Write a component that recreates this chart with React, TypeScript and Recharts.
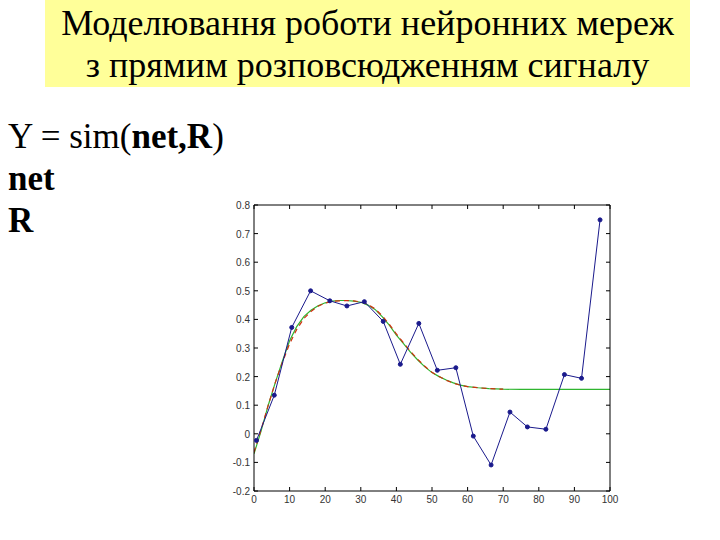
import React from 'react'
import { LineChart, Line, XAxis, YAxis } from 'recharts'

// network output (blue dots)
const netX = [0.7, 5.7, 10.6, 15.9, 21.3, 26.1, 31, 36.3, 41.1, 46.3, 51.5, 56.7, 61.6, 66.6, 71.9, 76.8, 82, 87.2, 92, 97.2]
const netY = [-0.023, 0.135, 0.372, 0.5, 0.465, 0.447, 0.462, 0.393, 0.243, 0.386, 0.222, 0.231, -0.008, -0.109, 0.076, 0.024, 0.016, 0.207, 0.194, 0.748]

// target curve (green)
const targetX = [0, 2, 4, 6, 8, 10, 12, 14, 16, 18, 20, 22, 24, 26, 28, 30, 32, 34, 36, 38, 40, 42, 44, 46, 48, 50, 52, 54, 56, 58, 60, 63, 66, 70, 75, 80, 90, 100]
const targetY = [-0.07, 0.01, 0.1, 0.18, 0.255, 0.325, 0.375, 0.41, 0.432, 0.448, 0.458, 0.464, 0.466, 0.466, 0.464, 0.46, 0.45, 0.435, 0.41, 0.38, 0.345, 0.315, 0.285, 0.258, 0.234, 0.214, 0.2, 0.188, 0.178, 0.17, 0.165, 0.161, 0.158, 0.156, 0.155, 0.155, 0.155, 0.155]

// smoothed response (red dashed)
const fitX = [0, 2, 4, 6, 8, 10, 12, 14, 16, 18, 20, 22, 24, 26, 28, 30, 32, 34, 36, 38, 40, 42, 44, 46, 48, 50, 52, 54, 56, 58, 60, 63, 66, 70]
const fitY = [-0.065, 0.015, 0.1, 0.18, 0.25, 0.315, 0.365, 0.403, 0.428, 0.446, 0.457, 0.463, 0.465, 0.466, 0.465, 0.461, 0.452, 0.437, 0.413, 0.383, 0.349, 0.318, 0.288, 0.26, 0.236, 0.215, 0.2, 0.187, 0.177, 0.17, 0.165, 0.161, 0.158, 0.156]

const xTicks = [0, 10, 20, 30, 40, 50, 60, 70, 80, 90, 100]
const yTicks = [-0.2, -0.1, 0, 0.1, 0.2, 0.3, 0.4, 0.5, 0.6, 0.7, 0.8]

const zip = (xs: number[], ys: number[]) => xs.map((x, i) => ({ x, y: ys[i] }))
const netData = zip(netX, netY)
const targetData = zip(targetX, targetY)
const fitData = zip(fitX, fitY)

const tickFont = { fontFamily: 'Liberation Sans, Arial, sans-serif', fontSize: 10, fill: '#333' }
const fmtY = (v: number) => (Math.round(v * 10) / 10).toString()

const BottomTick = (p: any) => (
  <g>
    <line x1={p.x} y1={p.y} x2={p.x} y2={p.y - 4} stroke="#000" />
    <text x={p.x} y={p.y + 12} textAnchor="middle" {...tickFont}>{p.payload.value}</text>
  </g>
)
const TopTick = (p: any) => <line x1={p.x} y1={p.y} x2={p.x} y2={p.y + 4} stroke="#000" />
const LeftTick = (p: any) => (
  <g>
    <line x1={p.x} y1={p.y} x2={p.x + 4} y2={p.y} stroke="#000" />
    <text x={p.x - 4} y={p.y + 4} textAnchor="end" {...tickFont}>{fmtY(p.payload.value)}</text>
  </g>
)
const RightTick = (p: any) => <line x1={p.x} y1={p.y} x2={p.x - 4} y2={p.y} stroke="#000" />

const serif = '"Liberation Serif", "DejaVu Serif", serif'

export default function App() {
  return (
    <div style={{ position: 'absolute', left: 0, top: 0, width: 720, height: 540, background: '#fff', overflow: 'hidden' }}>
      <div style={{ position: 'absolute', left: 0, top: 0 }}>
        <LineChart width={720} height={540} margin={{ top: 200, right: 105, bottom: 29, left: 224 }}>
          <XAxis type="number" dataKey="x" domain={[0, 100]} ticks={xTicks} tickSize={0} tickMargin={0}
            height={20} stroke="#000" tick={<BottomTick />} allowDataOverflow />
          <XAxis xAxisId="top" orientation="top" type="number" dataKey="x" domain={[0, 100]} ticks={xTicks}
            tickSize={0} tickMargin={0} height={5} stroke="#000" tick={<TopTick />} allowDataOverflow />
          <YAxis type="number" domain={[-0.2, 0.8]} ticks={yTicks} tickSize={0} tickMargin={0}
            width={30} stroke="#000" tick={<LeftTick />} allowDataOverflow />
          <YAxis yAxisId="right" orientation="right" type="number" domain={[-0.2, 0.8]} ticks={yTicks}
            tickSize={0} tickMargin={0} width={5} stroke="#000" tick={<RightTick />} allowDataOverflow />
          <Line data={targetData} dataKey="y" type="linear" stroke="#2fb52f" strokeWidth={1.2} dot={false} isAnimationActive={false} />
          <Line data={fitData} dataKey="y" type="linear" stroke="#d03010" strokeWidth={1.2} strokeDasharray="5 4" dot={false} isAnimationActive={false} />
          <Line data={netData} dataKey="y" type="linear" stroke="#1a1a8c" strokeWidth={1}
            dot={{ r: 2, fill: '#1a1a8c', stroke: '#1a1a8c' }} isAnimationActive={false} />
        </LineChart>
      </div>
      <div style={{ position: 'absolute', left: 45, top: 0, width: 645, height: 85, background: '#ffff99',
        fontFamily: serif, fontSize: 36, lineHeight: '42px', textAlign: 'center', color: '#000', paddingTop: 2 }}>
        <div>Моделювання роботи нейронних мереж</div>
        <div>з прямим розповсюдженням сигналу</div>
      </div>
      <div style={{ position: 'absolute', left: 8, top: 116, fontFamily: serif, fontSize: 35, lineHeight: '42px', color: '#000' }}>
        <div>Y = sim(<b>net,R</b>)</div>
        <div><b>net</b></div>
        <div><b>R</b></div>
      </div>
    </div>
  )
}
